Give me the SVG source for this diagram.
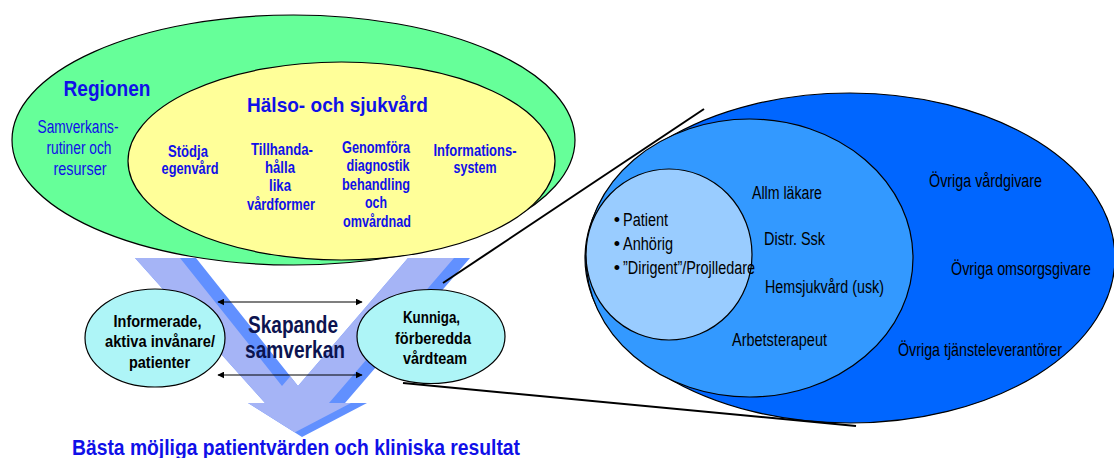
<svg xmlns="http://www.w3.org/2000/svg" xmlns:xlink="http://www.w3.org/1999/xlink" width="1114" height="458" viewBox="0 0 1114 458">
  <defs>
    <style>
      .outline { stroke: #000; stroke-width: 1.2; }
      .blue-b { font-family: "Liberation Sans", Arial, sans-serif; font-weight: bold; fill: #1010E8; }
      .blue-r { font-family: "Liberation Sans", Arial, sans-serif; fill: #1010E8; }
      .black-b { font-family: "Liberation Sans", Arial, sans-serif; font-weight: bold; fill: #000; }
      .black-r { font-family: "Liberation Sans", Arial, sans-serif; fill: #000; font-size: 18px; }
      .mid { text-anchor: middle; }
      .conn { stroke: #000; stroke-width: 1.2; fill: none; }
      .zoomline { stroke: #000; stroke-width: 2; fill: none; }
    </style>
    <!-- downward V arrow outline -->
    <polygon id="vArrow" points="135,258 196,258 298,386 408,258 470,258 345,403 367,403 302,437 248,403 265,403"/>
    <clipPath id="vClip">
      <use xlink:href="#vArrow"/>
    </clipPath>
    <marker id="head" viewBox="0 0 10 10" refX="9" refY="5" markerWidth="7" markerHeight="7" orient="auto-start-reverse" markerUnits="userSpaceOnUse">
      <path d="M0,0 L10,5 L0,10 z" fill="#000"/>
    </marker>
  </defs>

  <rect width="1114" height="458" fill="#fff"/>

  <!-- big V arrow: shaded side then light face -->
  <g id="flow-arrow">
    <use xlink:href="#vArrow" fill="#6190FF"/>
    <g clip-path="url(#vClip)">
      <use xlink:href="#vArrow" fill="#A5B4F6" transform="translate(-16,0)"/>
    </g>
  </g>

  <!-- Regionen -->
  <g id="regionen">
    <ellipse cx="293.5" cy="140" rx="281.5" ry="125" fill="#66FF99" class="outline"/>
    <text x="107" y="96" class="blue-b mid" font-size="22" textLength="87" lengthAdjust="spacingAndGlyphs">Regionen</text>
    <text x="78" y="133" class="blue-r mid" font-size="18" textLength="81" lengthAdjust="spacingAndGlyphs">Samverkans-</text>
    <text x="79" y="154" class="blue-r mid" font-size="18" textLength="65" lengthAdjust="spacingAndGlyphs">rutiner och</text>
    <text x="80" y="175" class="blue-r mid" font-size="18" textLength="53" lengthAdjust="spacingAndGlyphs">resurser</text>
  </g>

  <!-- Hälso- och sjukvård -->
  <g id="halso-sjukvard">
    <ellipse cx="341.5" cy="161" rx="213.5" ry="99" fill="#FFFF99" class="outline"/>
    <text x="337.5" y="112" class="blue-b mid" font-size="21" textLength="181" lengthAdjust="spacingAndGlyphs">Hälso- och sjukvård</text>
    <g font-size="16.5">
      <text x="188" y="157" class="blue-b mid" textLength="40" lengthAdjust="spacingAndGlyphs">Stödja</text>
      <text x="190" y="174" class="blue-b mid" textLength="57" lengthAdjust="spacingAndGlyphs">egenvård</text>
      <text x="282" y="155" class="blue-b mid" textLength="62" lengthAdjust="spacingAndGlyphs">Tillhanda-</text>
      <text x="280" y="173" class="blue-b mid" textLength="30" lengthAdjust="spacingAndGlyphs">hålla</text>
      <text x="280" y="191" class="blue-b mid" textLength="22" lengthAdjust="spacingAndGlyphs">lika</text>
      <text x="281" y="210" class="blue-b mid" textLength="68" lengthAdjust="spacingAndGlyphs">vårdformer</text>
      <text x="376" y="153" class="blue-b mid" textLength="68" lengthAdjust="spacingAndGlyphs">Genomföra</text>
      <text x="378" y="171" class="blue-b mid" textLength="63" lengthAdjust="spacingAndGlyphs">diagnostik</text>
      <text x="376" y="190" class="blue-b mid" textLength="68" lengthAdjust="spacingAndGlyphs">behandling</text>
      <text x="376" y="208" class="blue-b mid" textLength="22" lengthAdjust="spacingAndGlyphs">och</text>
      <text x="377" y="227" class="blue-b mid" textLength="68" lengthAdjust="spacingAndGlyphs">omvårdnad</text>
      <text x="475" y="156" class="blue-b mid" textLength="83" lengthAdjust="spacingAndGlyphs">Informations-</text>
      <text x="475" y="173" class="blue-b mid" textLength="43" lengthAdjust="spacingAndGlyphs">system</text>
    </g>
  </g>

  <!-- Informerade, aktiva invånare/patienter -->
  <g id="invanare">
    <ellipse cx="155" cy="338" rx="70" ry="49" fill="#AEF5F7" class="outline"/>
    <g font-size="17">
      <text x="157.5" y="327" class="black-b mid" textLength="88" lengthAdjust="spacingAndGlyphs">Informerade,</text>
      <text x="160" y="347" class="black-b mid" textLength="110" lengthAdjust="spacingAndGlyphs">aktiva invånare/</text>
      <text x="159.5" y="368" class="black-b mid" textLength="61" lengthAdjust="spacingAndGlyphs">patienter</text>
    </g>
  </g>

  <!-- Kunniga, förberedda vårdteam -->
  <g id="vardteam">
    <ellipse cx="431" cy="336.5" rx="74" ry="47" fill="#AEF5F7" class="outline"/>
    <g font-size="17">
      <text x="431.5" y="323" class="black-b mid" textLength="57" lengthAdjust="spacingAndGlyphs">Kunniga,</text>
      <text x="433" y="344" class="black-b mid" textLength="76" lengthAdjust="spacingAndGlyphs">förberedda</text>
      <text x="435" y="364" class="black-b mid" textLength="64" lengthAdjust="spacingAndGlyphs">vårdteam</text>
    </g>
  </g>

  <!-- Skapande samverkan -->
  <g id="samverkan">
    <text x="293" y="333" class="mid" font-family="Liberation Sans, Arial, sans-serif" font-weight="bold" font-size="24" fill="#0C1450" textLength="90" lengthAdjust="spacingAndGlyphs">Skapande</text>
    <text x="295" y="358" class="mid" font-family="Liberation Sans, Arial, sans-serif" font-weight="bold" font-size="24" fill="#0C1450" textLength="100" lengthAdjust="spacingAndGlyphs">samverkan</text>
  </g>

  <!-- care team detail -->
  <g id="team-detail">
    <ellipse cx="850" cy="258" rx="265" ry="165" fill="#0066FF" class="outline"/>
    <ellipse cx="749.5" cy="258" rx="163.5" ry="139" fill="#3399FF" class="outline"/>
    <ellipse cx="669" cy="254.5" rx="83" ry="85.5" fill="#99CCFF" class="outline"/>
    <g id="inner-circle-items">
      <text x="617" y="226" class="black-r mid">•</text>
      <text x="623" y="226" class="black-r" textLength="45" lengthAdjust="spacingAndGlyphs">Patient</text>
      <text x="617" y="250" class="black-r mid">•</text>
      <text x="623" y="250" class="black-r" textLength="50" lengthAdjust="spacingAndGlyphs">Anhörig</text>
      <text x="617" y="274" class="black-r mid">•</text>
      <text x="623" y="274" class="black-r" textLength="132" lengthAdjust="spacingAndGlyphs">”Dirigent”/Projlledare</text>
    </g>
    <g id="middle-items">
      <text x="752" y="199" class="black-r" textLength="70" lengthAdjust="spacingAndGlyphs">Allm läkare</text>
      <text x="764" y="245" class="black-r" textLength="61" lengthAdjust="spacingAndGlyphs">Distr. Ssk</text>
      <text x="765" y="293" class="black-r" textLength="119" lengthAdjust="spacingAndGlyphs">Hemsjukvård (usk)</text>
      <text x="732" y="346" class="black-r" textLength="95" lengthAdjust="spacingAndGlyphs">Arbetsterapeut</text>
    </g>
    <g id="outer-items">
      <text x="929" y="187" class="black-r" textLength="113" lengthAdjust="spacingAndGlyphs">Övriga vårdgivare</text>
      <text x="951" y="275" class="black-r" textLength="140" lengthAdjust="spacingAndGlyphs">Övriga omsorgsgivare</text>
      <text x="898" y="356" class="black-r" textLength="164" lengthAdjust="spacingAndGlyphs">Övriga tjänsteleverantörer</text>
    </g>
  </g>

  <!-- connectors -->
  <g id="connectors">
    <line x1="218" y1="302" x2="362" y2="302" class="conn" marker-start="url(#head)" marker-end="url(#head)"/>
    <line x1="218" y1="375" x2="362" y2="375" class="conn" marker-start="url(#head)" marker-end="url(#head)"/>
    <line x1="443" y1="283" x2="704" y2="109" class="zoomline"/>
    <line x1="403" y1="383" x2="856" y2="426" class="zoomline"/>
  </g>

  <!-- outcome -->
  <text id="outcome" x="72" y="455" class="blue-b" font-size="22" textLength="448" lengthAdjust="spacingAndGlyphs">Bästa möjliga patientvärden och kliniska resultat</text>
</svg>
